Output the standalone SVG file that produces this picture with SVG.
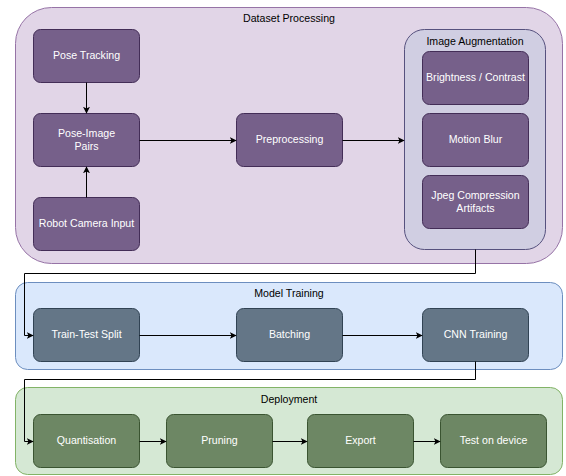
<svg xmlns="http://www.w3.org/2000/svg" width="566" height="476" viewBox="0 0 566 476">
  <defs>
    <marker id="arrow" viewBox="0 0 10 10" refX="9" refY="5" markerWidth="7" markerHeight="7" markerUnits="userSpaceOnUse" orient="auto">
      <path d="M0,0 L10,5 L0,10 L2.5,5 Z" fill="#000000"/>
    </marker>
    <style>
      text { font-family: "Liberation Sans", Arial, Helvetica, sans-serif; font-size: 10.6px; text-anchor: middle; dominant-baseline: central; }
      .title { fill: #000000; }
      .label { fill: #ffffff; }
      .grp-purple { fill: #e1d5e7; stroke: #9673a6; stroke-width: 1; }
      .grp-aug { fill: #d0cee2; stroke: #56517e; stroke-width: 1; }
      .grp-blue { fill: #dae8fc; stroke: #6c8ebf; stroke-width: 1; }
      .grp-green { fill: #d5e8d4; stroke: #82b366; stroke-width: 1; }
      .n-purple { fill: #76608a; stroke: #432d57; stroke-width: 1; }
      .n-slate { fill: #647687; stroke: #314354; stroke-width: 1; }
      .n-green { fill: #6d8764; stroke: #3a5431; stroke-width: 1; }
      .edge { fill: none; stroke: #000000; stroke-width: 1; marker-end: url(#arrow); }
    </style>
  </defs>

  <!-- containers -->
  <g id="dataset-processing">
    <rect class="grp-purple" x="15.5" y="7.5" width="547" height="256" rx="36" ry="36"/>
    <text class="title" x="289" y="18">Dataset Processing</text>
  </g>
  <g id="image-augmentation">
    <rect class="grp-aug" x="404.5" y="29.5" width="141" height="220" rx="20" ry="20"/>
    <text class="title" x="475" y="40.5">Image Augmentation</text>
  </g>
  <g id="model-training">
    <rect class="grp-blue" x="15.5" y="282.5" width="547" height="87" rx="12" ry="12"/>
    <text class="title" x="289" y="293">Model Training</text>
  </g>
  <g id="deployment">
    <rect class="grp-green" x="15.5" y="387.5" width="547" height="87" rx="12" ry="12"/>
    <text class="title" x="289" y="398.5">Deployment</text>
  </g>

  <!-- dataset nodes -->
  <g id="pose-tracking">
    <rect class="n-purple" x="33.5" y="29.5" width="106" height="53" rx="7" ry="7"/>
    <text class="label" x="86.5" y="54.5">Pose Tracking</text>
  </g>
  <g id="pose-image-pairs">
    <rect class="n-purple" x="33.5" y="113.5" width="106" height="53" rx="7" ry="7"/>
    <text class="label" x="86.5" y="132.5">Pose-Image</text>
    <text class="label" x="86.5" y="145.5">Pairs</text>
  </g>
  <g id="robot-camera-input">
    <rect class="n-purple" x="33.5" y="197.5" width="106" height="53" rx="7" ry="7"/>
    <text class="label" x="86.5" y="222.5">Robot Camera Input</text>
  </g>
  <g id="preprocessing">
    <rect class="n-purple" x="236.5" y="113.5" width="106" height="53" rx="7" ry="7"/>
    <text class="label" x="289.5" y="138.5">Preprocessing</text>
  </g>
  <g id="brightness-contrast">
    <rect class="n-purple" x="422.5" y="51.5" width="106" height="53" rx="7" ry="7"/>
    <text class="label" x="475.5" y="76.5">Brightness / Contrast</text>
  </g>
  <g id="motion-blur">
    <rect class="n-purple" x="422.5" y="113.5" width="106" height="53" rx="7" ry="7"/>
    <text class="label" x="475.5" y="138.5">Motion Blur</text>
  </g>
  <g id="jpeg-artifacts">
    <rect class="n-purple" x="422.5" y="175.5" width="106" height="53" rx="7" ry="7"/>
    <text class="label" x="475.5" y="194.5">Jpeg Compression</text>
    <text class="label" x="475.5" y="207.5">Artifacts</text>
  </g>

  <!-- training nodes -->
  <g id="train-test-split">
    <rect class="n-slate" x="33.5" y="308.5" width="106" height="53" rx="7" ry="7"/>
    <text class="label" x="86.5" y="333.5">Train-Test Split</text>
  </g>
  <g id="batching">
    <rect class="n-slate" x="236.5" y="308.5" width="106" height="53" rx="7" ry="7"/>
    <text class="label" x="289.5" y="333.5">Batching</text>
  </g>
  <g id="cnn-training">
    <rect class="n-slate" x="422.5" y="308.5" width="106" height="53" rx="7" ry="7"/>
    <text class="label" x="475.5" y="333.5">CNN Training</text>
  </g>

  <!-- deployment nodes -->
  <g id="quantisation">
    <rect class="n-green" x="33.5" y="414.5" width="106" height="53" rx="7" ry="7"/>
    <text class="label" x="86.5" y="439.5">Quantisation</text>
  </g>
  <g id="pruning">
    <rect class="n-green" x="166.5" y="414.5" width="106" height="53" rx="7" ry="7"/>
    <text class="label" x="219.5" y="439.5">Pruning</text>
  </g>
  <g id="export">
    <rect class="n-green" x="307.5" y="414.5" width="106" height="53" rx="7" ry="7"/>
    <text class="label" x="360.5" y="439.5">Export</text>
  </g>
  <g id="test-on-device">
    <rect class="n-green" x="440.5" y="414.5" width="106" height="53" rx="7" ry="7"/>
    <text class="label" x="493.5" y="439.5">Test on device</text>
  </g>

  <!-- connectors -->
  <g id="connectors">
    <path class="edge" d="M86.5,82.5 L86.5,113"/>
    <path class="edge" d="M86.5,197.5 L86.5,167"/>
    <path class="edge" d="M139.5,140.5 L236,140.5"/>
    <path class="edge" d="M342.5,140.5 L404,140.5"/>
    <path class="edge" d="M475.5,249.5 L475.5,273.5 L24.5,273.5 L24.5,335.5 L33,335.5"/>
    <path class="edge" d="M139.5,335.5 L236,335.5"/>
    <path class="edge" d="M342.5,335.5 L422,335.5"/>
    <path class="edge" d="M475.5,361.5 L475.5,379.5 L24.5,379.5 L24.5,441.5 L33,441.5"/>
    <path class="edge" d="M139.5,441.5 L166,441.5"/>
    <path class="edge" d="M272.5,441.5 L307,441.5"/>
    <path class="edge" d="M413.5,441.5 L440,441.5"/>
  </g>
</svg>
